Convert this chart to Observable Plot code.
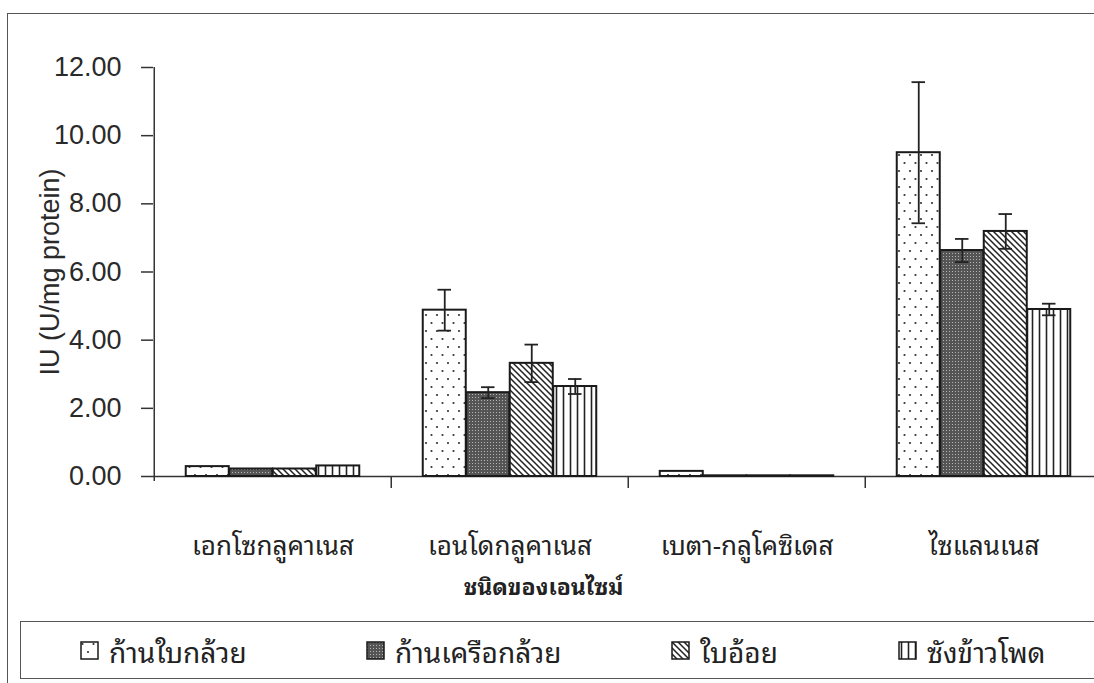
<!DOCTYPE html>
<html>
<head>
<meta charset="utf-8">
<script src="https://cdn.jsdelivr.net/npm/d3@7"></script>
<script src="https://cdn.jsdelivr.net/npm/@observablehq/plot@0.6"></script>
<style>
  body { margin: 0; background: #fff; }
  #page { position: relative; width: 1094px; height: 683px; overflow: hidden; background: #fff;
          font-family: "Liberation Sans", Arial, sans-serif; color: #222; }
  #frame { position: absolute; left: 7px; top: 13px; width: 1200px; height: 800px;
           border-left: 1.5px solid #555; border-top: 1.5px solid #555; }
  #chart { position: absolute; left: 0; top: 0; }
  #legend { position: absolute; left: 20px; top: 621px; width: 1200px; height: 56px;
            border: 1.5px solid #555; }
  .item { position: absolute; top: 0; height: 56px; display: flex; align-items: center;
          font-family: "Noto Sans Thai Looped", "Noto Looped Thai", "Noto Sans Thai", "Loma", "Garuda", sans-serif;
          font-size: 28px; color: #222; white-space: nowrap; }
  .item svg { margin-right: 10px; }
</style>
</head>
<body>
<div id="page">
  <svg width="0" height="0" style="position:absolute">
    <defs>
      <pattern id="pat-dots" width="11" height="16" patternUnits="userSpaceOnUse">
        <rect width="11" height="16" fill="#fff"/>
        <circle cx="2.5" cy="3" r="1.1" fill="#333"/>
        <circle cx="8" cy="11" r="1.1" fill="#333"/>
      </pattern>
      <pattern id="pat-dark" width="3" height="3" patternUnits="userSpaceOnUse">
        <rect width="3" height="3" fill="#555"/>
        <rect x="1" y="1" width="1" height="1" fill="#b4b4b4"/>
      </pattern>
      <pattern id="pat-diag" width="6" height="6" patternUnits="userSpaceOnUse">
        <rect width="6" height="6" fill="#fff"/>
        <path d="M-1.5,-1.5 L7.5,7.5 M-1.5,4.5 L1.5,7.5 M4.5,-1.5 L7.5,1.5" stroke="#222" stroke-width="1.5"/>
      </pattern>
      <pattern id="pat-vert" width="7" height="10" patternUnits="userSpaceOnUse">
        <rect width="7" height="10" fill="#fff"/>
        <path d="M3.5,0 L3.5,10" stroke="#222" stroke-width="1.6"/>
      </pattern>
    </defs>
  </svg>
  <div id="frame"></div>
  <div id="chart"></div>
  <div id="legend"></div>
</div>
<script>
// Enzyme categories along the x axis
const enzymes = ["เอกโซกลูคาเนส", "เอนโดกลูคาเนส", "เบตา-กลูโคซิเดส", "ไซแลนเนส"];
// Substrate series
const substrates = ["ก้านใบกล้วย", "ก้านเครือกล้วย", "ใบอ้อย", "ซังข้าวโพด"];
const patterns = ["url(#pat-dots)", "url(#pat-dark)", "url(#pat-diag)", "url(#pat-vert)"];

// Activity (IU, U/mg protein) per enzyme, one array per substrate
const bananaPetiole   = [0.29, 4.88, 0.15, 9.50];
const bananaStalk     = [0.22, 2.46, 0.02, 6.63];
const sugarcaneLeaf   = [0.22, 3.32, 0.02, 7.19];
const corncob         = [0.31, 2.64, 0.02, 4.90];
// Standard deviations
const bananaPetioleSd = [0.00, 0.60, 0.00, 2.07];
const bananaStalkSd   = [0.00, 0.16, 0.00, 0.34];
const sugarcaneLeafSd = [0.00, 0.55, 0.00, 0.51];
const corncobSd       = [0.00, 0.22, 0.00, 0.17];

const yTicks = [0, 2, 4, 6, 8, 10, 12];
const yTitle = "IU (U/mg protein)";
const xTitle = "ชนิดของเอนไซม์";

const seriesValues = [bananaPetiole, bananaStalk, sugarcaneLeaf, corncob];
const seriesSd = [bananaPetioleSd, bananaStalkSd, sugarcaneLeafSd, corncobSd];

const rows = substrates.map((s, k) => enzymes.map((e, i) => ({
  substrate: s, enzyme: e, value: seriesValues[k][i], sd: seriesSd[k][i]
})));

const thai = '"Noto Sans Thai Looped", "Noto Looped Thai", "Noto Sans Thai", "Loma", "Garuda", sans-serif';
const W = 1094, H = 615;
const x0 = 153, x1 = 1103, yTop = 67, yZero = 476;
const step = (x1 - x0) / enzymes.length;
const pad = 31.75;
const bw = (step - 2 * pad) / substrates.length;
const capHalf = 7;

const marks = [];
// category axis line and group separators
marks.push(Plot.ruleY([0], {stroke: "#333", strokeWidth: 1.5}));
marks.push(Plot.ruleX([enzymes[0]], {x: d => d, dx: -step / 2, insetBottom: -5, stroke: "#333", strokeWidth: 1.5}));
marks.push(Plot.ruleX(enzymes.slice(1), {x: d => d, dx: -step / 2, insetTop: yZero - yTop, insetBottom: -12, stroke: "#333", strokeWidth: 1.5}));

substrates.forEach((s, k) => {
  const left = pad + bw * k;
  const center = left + bw / 2;
  marks.push(Plot.barY(rows[k], {
    x: "enzyme", y: "value", fill: patterns[k], stroke: "#1a1a1a", strokeWidth: 2,
    insetLeft: left, insetRight: step - left - bw
  }));
  const withErr = rows[k].filter(d => d.sd > 0.05);
  marks.push(Plot.ruleX(withErr, {
    x: "enzyme", y1: d => d.value - d.sd, y2: d => d.value + d.sd,
    dx: center - step / 2, stroke: "#222", strokeWidth: 1.8
  }));
  for (const f of [d => d.value + d.sd, d => d.value - d.sd]) {
    marks.push(Plot.tickY(withErr, {
      x: "enzyme", y: f, stroke: "#222", strokeWidth: 1.8,
      insetLeft: center - capHalf, insetRight: step - center - capHalf
    }));
  }
});

marks.push(Plot.axisY({
  ticks: yTicks, tickFormat: d3.format(".2f"), tickSize: 12, tickPadding: 20,
  label: null, stroke: "#333", fill: "#2a2a2a", strokeWidth: 1.5
}));
marks.push(Plot.text(enzymes, {
  x: d => d, frameAnchor: "bottom", lineAnchor: "middle", dy: 70,
  fontFamily: thai, fontSize: 26, fill: "#222"
}));
marks.push(Plot.text([xTitle], {
  frameAnchor: "bottom-left", textAnchor: "middle", lineAnchor: "middle",
  dx: 543 - x0, dy: 111, fontFamily: thai, fontSize: 23, fontWeight: "bold", fill: "#222"
}));
marks.push(Plot.text([yTitle], {
  frameAnchor: "left", rotate: -90, textAnchor: "middle", lineAnchor: "middle",
  dx: 50 - x0, fontSize: 27, fill: "#2a2a2a"
}));

const chart = Plot.plot({
  width: W, height: H,
  marginTop: yTop, marginBottom: H - yZero, marginLeft: x0, marginRight: 0,
  x: {type: "band", domain: enzymes, range: [x0, x1], padding: 0, axis: null},
  y: {domain: [0, 12], range: [yZero, yTop], axis: null},
  style: {background: "transparent", overflow: "visible",
          fontFamily: '"Liberation Sans", Arial, sans-serif', fontSize: "27px"},
  marks
});
document.getElementById("chart").appendChild(chart);

// Legend row
const legendX = [59, 345, 650, 877];
const legend = document.getElementById("legend");
substrates.forEach((s, k) => {
  const item = document.createElement("div");
  item.className = "item";
  item.style.left = legendX[k] + "px";
  const sw = d3.create("svg").attr("width", 19).attr("height", 19);
  sw.append("rect").attr("x", 1).attr("y", 1).attr("width", 17).attr("height", 17)
    .attr("fill", patterns[k]).attr("stroke", "#1a1a1a").attr("stroke-width", 1.5);
  item.appendChild(sw.node());
  const label = document.createElement("span");
  label.textContent = s;
  item.appendChild(label);
  legend.appendChild(item);
});
</script>
</body>
</html>
